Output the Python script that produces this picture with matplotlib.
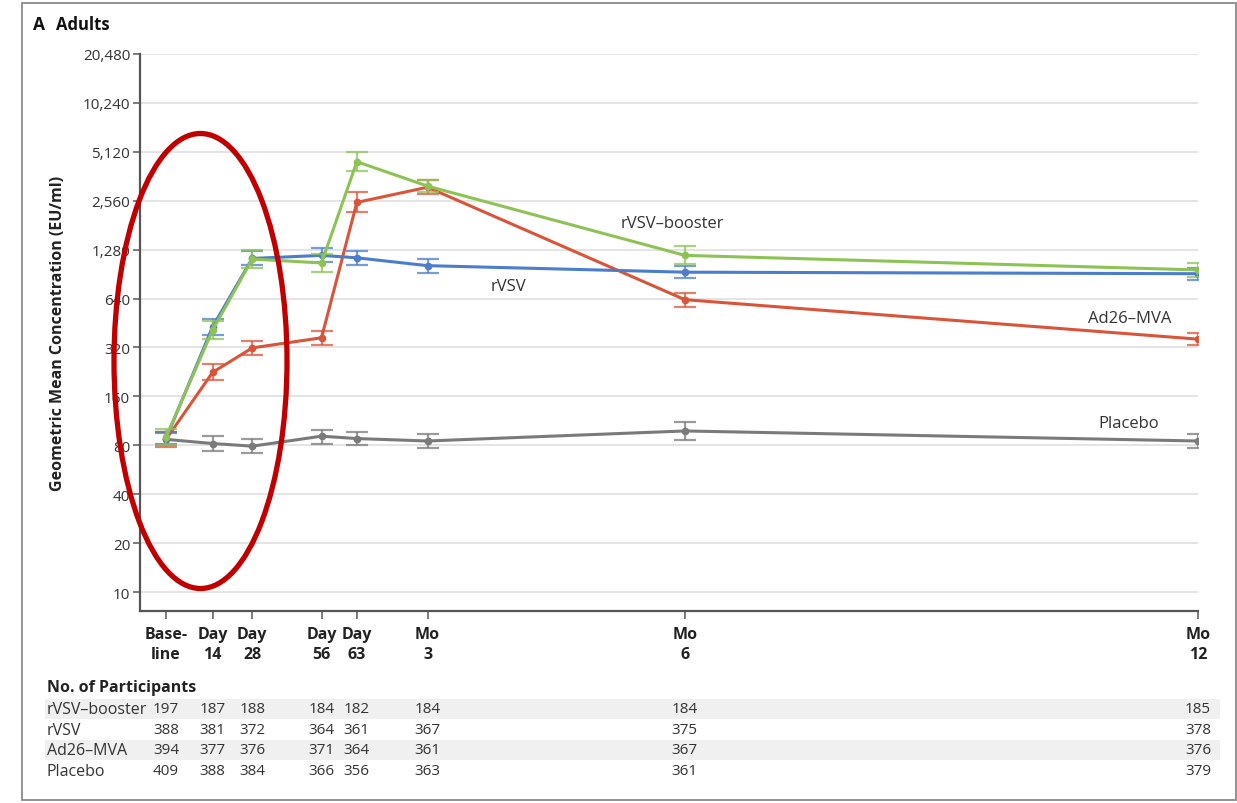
import matplotlib
matplotlib.use("Agg")
import matplotlib.pyplot as plt
from matplotlib.patches import Ellipse, Rectangle
from matplotlib.ticker import FixedLocator, NullLocator
import matplotlib.transforms as mtransforms

plt.rcParams['font.family'] = ['Open Sans', 'DejaVu Sans']

# ---------------- data ----------------
timepoints = ["Base-\nline", "Day\n14", "Day\n28", "Day\n56", "Day\n63", "Mo\n3", "Mo\n6", "Mo\n12"]
# position of each visit on the time axis (days, as spaced in the figure)
visit_pos = [0, 16.5, 30.5, 55, 67.5, 92.5, 183.5, 365]

series_names = ["rVSV\u2013booster", "rVSV", "Ad26\u2013MVA", "Placebo"]

booster_gmc = [90, 410, 1120, 1060, 4450, 3150, 1180, 960]
booster_lo = [80, 361, 986, 933, 3890, 2893, 1039, 870]
booster_hi = [101, 466, 1272, 1204, 5090, 3430, 1340, 1060]

rvsv_gmc = [88, 430, 1130, 1180, 1140, 1020, 930, 910]
rvsv_lo = [81, 384, 1024, 1069, 1033, 924, 854, 836]
rvsv_hi = [96, 482, 1248, 1303, 1259, 1126, 1013, 991]

ad26_gmc = [87, 225, 318, 367, 2500, 3100, 630, 360]
ad26_lo = [78, 201, 288, 332, 2170, 2808, 571, 331]
ad26_hi = [97, 252, 351, 405, 2880, 3422, 696, 392]

placebo_gmc = [87, 82, 79, 91, 88, 85, 98, 85]
placebo_lo = [80, 74, 72, 82, 80, 77, 86, 77]
placebo_hi = [95, 91, 87, 100, 97, 94, 111, 94]

yticks = [10, 20, 40, 80, 160, 320, 640, 1280, 2560, 5120, 10240, 20480]
ytick_labels = ["10", "20", "40", "80", "160", "320", "640", "1,280", "2,560", "5,120", "10,240", "20,480"]

n_booster = [197, 187, 188, 184, 182, 184, 184, 185]
n_rvsv = [388, 381, 372, 364, 361, 367, 375, 378]
n_ad26 = [394, 377, 376, 371, 364, 361, 367, 376]
n_placebo = [409, 388, 384, 366, 356, 363, 361, 379]

# ---------------- styling ----------------
W, H = 1237, 804
fig = plt.figure(figsize=(W / 100, H / 100), dpi=100)
fig.patch.set_facecolor("white")

def fx(px):
    return px / W

def fy(py):
    return 1 - py / H

ax = fig.add_axes([fx(140), fy(612), fx(1198) - fx(140), fy(55) - fy(612)])
ax.set_yscale("log", base=2)
ax.set_ylim(7.64, 20480)
ax.set_xlim(-9.2, 365)

colors = {
    "booster": "#8dc355",
    "rvsv": "#4b7dcc",
    "ad26": "#d9553a",
    "placebo": "#7a7a7a",
}

def plot_series(gmc, lo, hi, color, z):
    yerr = [[g - l for g, l in zip(gmc, lo)], [h - g for g, h in zip(gmc, hi)]]
    ax.errorbar(visit_pos, gmc, yerr=yerr, fmt="none", ecolor=color, elinewidth=1.6,
                capsize=8, capthick=1.6, alpha=0.75, zorder=z)
    ax.plot(visit_pos, gmc, color=color, lw=2.2, marker="o", ms=4.5, zorder=z + 0.5)

plot_series(placebo_gmc, placebo_lo, placebo_hi, colors["placebo"], 3)
plot_series(ad26_gmc, ad26_lo, ad26_hi, colors["ad26"], 4)
plot_series(rvsv_gmc, rvsv_lo, rvsv_hi, colors["rvsv"], 5)
plot_series(booster_gmc, booster_lo, booster_hi, colors["booster"], 6)

# axes look
ax.yaxis.set_major_locator(FixedLocator(yticks))
ax.yaxis.set_minor_locator(NullLocator())
ax.set_yticklabels(ytick_labels)
ax.set_xticks(visit_pos)
ax.set_xticklabels(timepoints, fontweight="bold", fontsize=11.5, linespacing=1.35)
for s in ["top", "right"]:
    ax.spines[s].set_visible(False)
for s in ["left", "bottom"]:
    ax.spines[s].set_color("#555555")
    ax.spines[s].set_linewidth(1.6)
ax.tick_params(axis="y", direction="out", length=5, width=1.2, color="#666666",
               labelsize=11, labelcolor="#333333", pad=2)
ax.tick_params(axis="x", direction="out", length=6, width=1.2, color="#666666",
               labelcolor="#222222", pad=5)
ax.grid(axis="y", color="#e2e2e2", lw=1.3, zorder=0)
ax.set_axisbelow(True)
ax.set_ylabel("Geometric Mean Concentration (EU/ml)", fontsize=11.5, fontweight="bold",
              color="#222222", labelpad=12)

# series labels
label_kw = dict(fontsize=12, color="#333333", ha="center", va="center")
ax.text(179, 1877, series_names[0], **label_kw)
ax.text(121, 769, series_names[1], **label_kw)
ax.text(341, 489, series_names[2], **label_kw)
ax.text(340.5, 109, series_names[3], **label_kw)

# title
fig.text(fx(33), fy(25), "A", fontsize=12.5, fontweight="bold", ha="left", va="center", color="#111111")
fig.text(fx(56), fy(25), "Adults", fontsize=12, fontweight="bold", ha="left", va="center", color="#111111")

# participants table
fig.text(fx(47), fy(688), "No. of Participants", fontsize=11.5, fontweight="bold",
         ha="left", va="center", color="#222222")
row_y = [710, 731, 751, 772]
counts = [n_booster, n_rvsv, n_ad26, n_placebo]
blend = mtransforms.blended_transform_factory(ax.transData, fig.transFigure)
for i, (name, cnt, py) in enumerate(zip(series_names, counts, row_y)):
    if i % 2 == 0:
        fig.patches.append(Rectangle((fx(45), fy(py + 10)), fx(1220) - fx(45), 20 / H,
                                     transform=fig.transFigure, facecolor="#f0f0f0",
                                     edgecolor="none", zorder=0))
    fig.text(fx(47), fy(py), name, fontsize=11.5, ha="left", va="center", color="#333333")
    for xp, c in zip(visit_pos, cnt):
        fig.text(xp, fy(py), str(c), transform=blend, fontsize=11, ha="center",
                 va="center", color="#333333")

# outer frame
fig.patches.append(Rectangle((fx(22), fy(801)), fx(1236) - fx(22), (801 - 4) / H,
                             transform=fig.transFigure, facecolor="none",
                             edgecolor="#8a8a8a", lw=1.3, zorder=1))

# red highlight ellipse
fig.patches.append(Ellipse((fx(200.5), fy(362)), 173 / W, 455 / H,
                           transform=fig.transFigure, facecolor="none",
                           edgecolor="#c00000", lw=3.8, zorder=10))

fig.savefig("out.png", dpi=100)
